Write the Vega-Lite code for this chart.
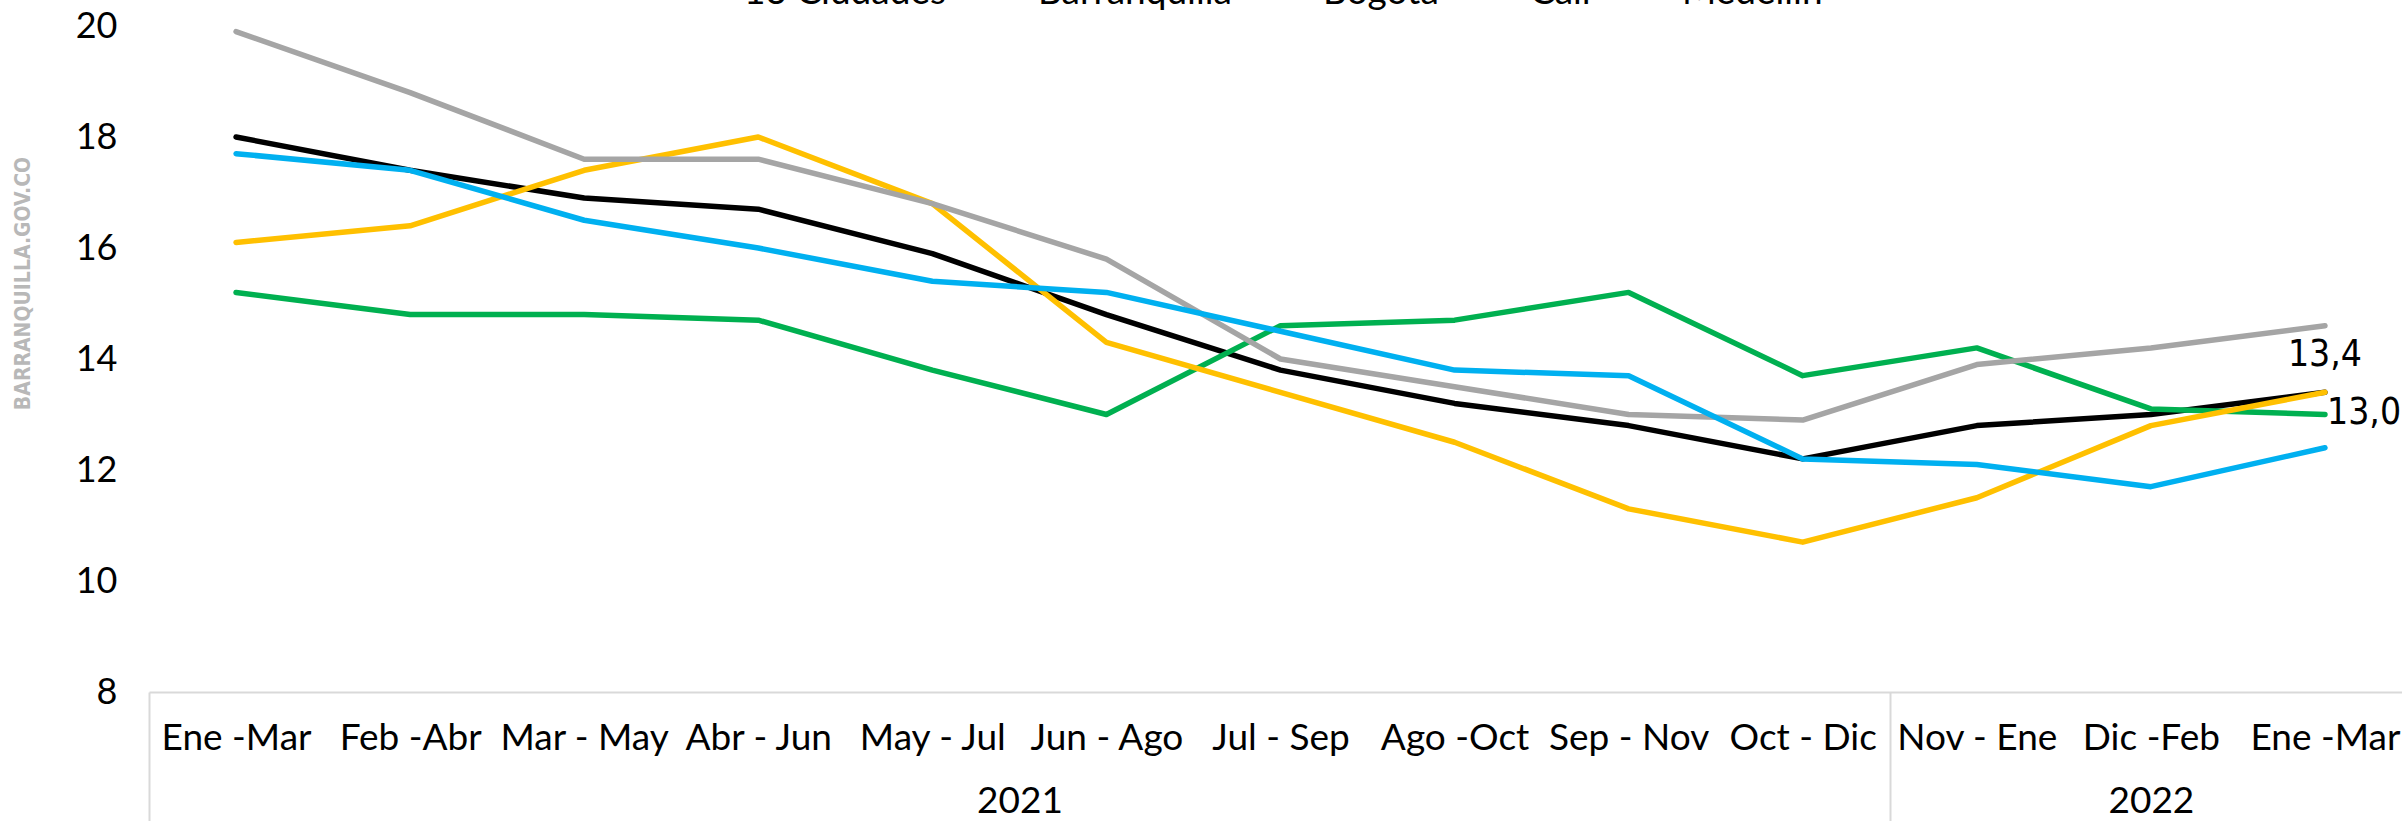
{
  "$schema": "https://vega.github.io/schema/vega-lite/v6.json",
  "width": 2253,
  "height": 666,
  "autosize": {"type": "none"},
  "padding": {"left": 149, "top": 26, "right": 0, "bottom": 129},
  "background": "white",
  "config": {"view": {"stroke": null}},
  "datasets": {
    "d": [
      {"s": "13 Ciudades", "p": "2021|Ene -Mar", "v": 18.0},
      {"s": "13 Ciudades", "p": "2021|Feb -Abr", "v": 17.4},
      {"s": "13 Ciudades", "p": "2021|Mar - May", "v": 16.9},
      {"s": "13 Ciudades", "p": "2021|Abr - Jun", "v": 16.7},
      {"s": "13 Ciudades", "p": "2021|May - Jul", "v": 15.9},
      {"s": "13 Ciudades", "p": "2021|Jun - Ago", "v": 14.8},
      {"s": "13 Ciudades", "p": "2021|Jul - Sep", "v": 13.8},
      {"s": "13 Ciudades", "p": "2021|Ago -Oct", "v": 13.2},
      {"s": "13 Ciudades", "p": "2021|Sep - Nov", "v": 12.8},
      {"s": "13 Ciudades", "p": "2021|Oct - Dic", "v": 12.2},
      {"s": "13 Ciudades", "p": "2022|Nov - Ene", "v": 12.8},
      {"s": "13 Ciudades", "p": "2022|Dic -Feb", "v": 13.0},
      {"s": "13 Ciudades", "p": "2022|Ene -Mar", "v": 13.4},
      {"s": "Barranquilla", "p": "2021|Ene -Mar", "v": 15.2},
      {"s": "Barranquilla", "p": "2021|Feb -Abr", "v": 14.8},
      {"s": "Barranquilla", "p": "2021|Mar - May", "v": 14.8},
      {"s": "Barranquilla", "p": "2021|Abr - Jun", "v": 14.7},
      {"s": "Barranquilla", "p": "2021|May - Jul", "v": 13.8},
      {"s": "Barranquilla", "p": "2021|Jun - Ago", "v": 13.0},
      {"s": "Barranquilla", "p": "2021|Jul - Sep", "v": 14.6},
      {"s": "Barranquilla", "p": "2021|Ago -Oct", "v": 14.7},
      {"s": "Barranquilla", "p": "2021|Sep - Nov", "v": 15.2},
      {"s": "Barranquilla", "p": "2021|Oct - Dic", "v": 13.7},
      {"s": "Barranquilla", "p": "2022|Nov - Ene", "v": 14.2},
      {"s": "Barranquilla", "p": "2022|Dic -Feb", "v": 13.1},
      {"s": "Barranquilla", "p": "2022|Ene -Mar", "v": 13.0},
      {"s": "Bogotá", "p": "2021|Ene -Mar", "v": 16.1},
      {"s": "Bogotá", "p": "2021|Feb -Abr", "v": 16.4},
      {"s": "Bogotá", "p": "2021|Mar - May", "v": 17.4},
      {"s": "Bogotá", "p": "2021|Abr - Jun", "v": 18.0},
      {"s": "Bogotá", "p": "2021|May - Jul", "v": 16.8},
      {"s": "Bogotá", "p": "2021|Jun - Ago", "v": 14.3},
      {"s": "Bogotá", "p": "2021|Jul - Sep", "v": 13.4},
      {"s": "Bogotá", "p": "2021|Ago -Oct", "v": 12.5},
      {"s": "Bogotá", "p": "2021|Sep - Nov", "v": 11.3},
      {"s": "Bogotá", "p": "2021|Oct - Dic", "v": 10.7},
      {"s": "Bogotá", "p": "2022|Nov - Ene", "v": 11.5},
      {"s": "Bogotá", "p": "2022|Dic -Feb", "v": 12.8},
      {"s": "Bogotá", "p": "2022|Ene -Mar", "v": 13.4},
      {"s": "Cali", "p": "2021|Ene -Mar", "v": 19.9},
      {"s": "Cali", "p": "2021|Feb -Abr", "v": 18.8},
      {"s": "Cali", "p": "2021|Mar - May", "v": 17.6},
      {"s": "Cali", "p": "2021|Abr - Jun", "v": 17.6},
      {"s": "Cali", "p": "2021|May - Jul", "v": 16.8},
      {"s": "Cali", "p": "2021|Jun - Ago", "v": 15.8},
      {"s": "Cali", "p": "2021|Jul - Sep", "v": 14.0},
      {"s": "Cali", "p": "2021|Ago -Oct", "v": 13.5},
      {"s": "Cali", "p": "2021|Sep - Nov", "v": 13.0},
      {"s": "Cali", "p": "2021|Oct - Dic", "v": 12.9},
      {"s": "Cali", "p": "2022|Nov - Ene", "v": 13.9},
      {"s": "Cali", "p": "2022|Dic -Feb", "v": 14.2},
      {"s": "Cali", "p": "2022|Ene -Mar", "v": 14.6},
      {"s": "Medellín", "p": "2021|Ene -Mar", "v": 17.7},
      {"s": "Medellín", "p": "2021|Feb -Abr", "v": 17.4},
      {"s": "Medellín", "p": "2021|Mar - May", "v": 16.5},
      {"s": "Medellín", "p": "2021|Abr - Jun", "v": 16.0},
      {"s": "Medellín", "p": "2021|May - Jul", "v": 15.4},
      {"s": "Medellín", "p": "2021|Jun - Ago", "v": 15.2},
      {"s": "Medellín", "p": "2021|Jul - Sep", "v": 14.5},
      {"s": "Medellín", "p": "2021|Ago -Oct", "v": 13.8},
      {"s": "Medellín", "p": "2021|Sep - Nov", "v": 13.7},
      {"s": "Medellín", "p": "2021|Oct - Dic", "v": 12.2},
      {"s": "Medellín", "p": "2022|Nov - Ene", "v": 12.1},
      {"s": "Medellín", "p": "2022|Dic -Feb", "v": 11.7},
      {"s": "Medellín", "p": "2022|Ene -Mar", "v": 12.4}
    ]
  },
  "data": {"name": "d"},
  "resolve": {"axis": {"x": "independent"}},
  "layer": [
    {
      "mark": {"type": "line", "strokeWidth": 5.5, "strokeCap": "round", "strokeJoin": "round"},
      "encoding": {
        "x": {
          "field": "p", "type": "nominal", "sort": null,
          "scale": {"range": [0, 2263]},
          "axis": {
            "title": null, "orient": "bottom",
            "labelExpr": "split(datum.value, '|')[1]",
            "labelFont": "Lato", "labelFontSize": 37, "labelColor": "#000000",
            "labelAngle": 0, "labelBaseline": "alphabetic", "labelPadding": 57,
            "ticks": false,
            "domainColor": "#d9d9d9", "domainWidth": 2, "grid": false
          }
        },
        "y": {
          "field": "v", "type": "quantitative",
          "scale": {"domain": [8, 20], "nice": false, "zero": false},
          "axis": {
            "title": "BARRANQUILLA.GOV.CO",
            "titleColor": "#b8b8b8", "titleFont": "DejaVu Sans Condensed", "titleFontWeight": "bold", "titleFontSize": 21,
            "titleAngle": -90, "titleX": -126, "titleY": 257, "titleAlign": "center", "titleBaseline": "middle",
            "values": [8, 10, 12, 14, 16, 18, 20], "format": "d",
            "domain": false, "ticks": false, "grid": false,
            "labelFont": "Lato", "labelFontSize": 36, "labelPadding": 32, "labelColor": "#000000"
          }
        },
        "color": {
          "field": "s", "type": "nominal",
          "scale": {
            "domain": ["13 Ciudades", "Barranquilla", "Bogotá", "Cali", "Medellín"],
            "range": ["#000000", "#00B050", "#FFC000", "#A5A5A5", "#00B0F0"]
          },
          "legend": {
            "title": null, "orient": "none", "direction": "horizontal",
            "legendX": 540, "legendY": -56, "padding": 0,
            "labelFont": "Lato", "labelFontSize": 37, "labelColor": "#000000", "labelOffset": 10, "labelLimit": 0,
            "symbolType": "stroke", "symbolSize": 1600, "symbolStrokeWidth": 5,
            "columnPadding": 28
          }
        }
      }
    },
    {
      "mark": {"type": "point", "opacity": 0},
      "encoding": {
        "x": {
          "field": "p", "type": "nominal", "sort": null,
          "axis": {
            "title": null, "orient": "bottom",
            "values": ["2021|Ene -Mar", "2021|Jun - Ago", "2022|Nov - Ene", "2022|Dic -Feb"],
            "tickOffset": -87,
            "labelExpr": "datum.value == '2021|Jun - Ago' ? '2021' : (datum.value == '2022|Dic -Feb' ? '2022' : '')",
            "labelOffset": {"condition": {"test": "datum.value == '2022|Dic -Feb'", "value": 87}, "value": 0},
            "ticks": true, "tickSize": 129, "tickColor": "#d9d9d9", "tickWidth": 2,
            "tickOpacity": {"condition": {"test": "datum.value == '2021|Ene -Mar' || datum.value == '2022|Nov - Ene'", "value": 1}, "value": 0},
            "domain": false, "grid": false,
            "labelAngle": 0, "labelBaseline": "alphabetic", "labelPadding": -9,
            "labelFont": "Lato", "labelFontSize": 37, "labelColor": "#000000"
          }
        },
        "y": {"field": "v", "type": "quantitative"}
      }
    },
    {
      "transform": [
        {"filter": "datum.p == '2022|Ene -Mar' && datum.s == '13 Ciudades'"},
        {"calculate": "replace(format(datum.v, '.1f'), '.', ',')", "as": "lab"}
      ],
      "mark": {"type": "text", "align": "center", "baseline": "alphabetic", "dy": -26, "font": "DejaVu Sans Condensed", "fontSize": 37, "color": "#000000"},
      "encoding": {
        "x": {"field": "p", "type": "nominal", "sort": null, "axis": null},
        "y": {"field": "v", "type": "quantitative"},
        "text": {"field": "lab"}
      }
    },
    {
      "transform": [
        {"filter": "datum.p == '2022|Ene -Mar' && datum.s == 'Barranquilla'"},
        {"calculate": "replace(format(datum.v, '.1f'), '.', ',')", "as": "lab"}
      ],
      "mark": {"type": "text", "align": "left", "baseline": "alphabetic", "dx": 2, "dy": 9, "font": "DejaVu Sans Condensed", "fontSize": 37, "color": "#000000"},
      "encoding": {
        "x": {"field": "p", "type": "nominal", "sort": null, "axis": null},
        "y": {"field": "v", "type": "quantitative"},
        "text": {"field": "lab"}
      }
    }
  ]
}
